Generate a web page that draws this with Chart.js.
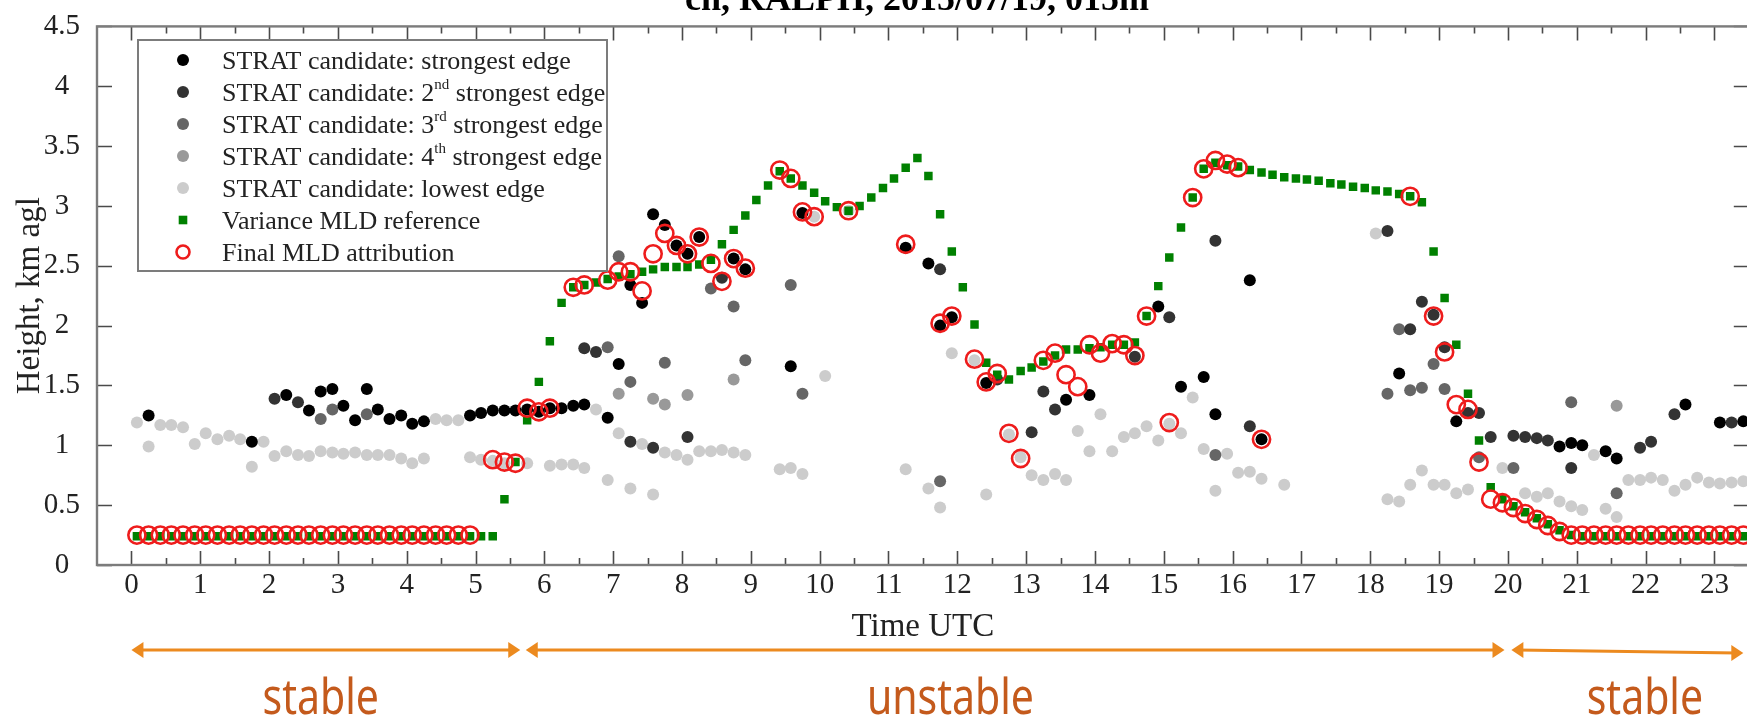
<!DOCTYPE html>
<html>
<head>
<meta charset="utf-8">
<script src="https://cdn.jsdelivr.net/npm/chart.js@4.4.1/dist/chart.umd.min.js"></script>
<style>
  html, body { margin: 0; padding: 0; background: #fff; overflow: hidden; }
  canvas { display: block; }
</style>
</head>
<body>
<canvas id="mld" width="1760" height="716" style="width:1760px;height:716px"></canvas>
<script>
// ---- data, each point is [time UTC in hours, height in km agl] ----
const strongestEdge = [
  [0.25,1.25],[1.75,1.03],[2.25,1.42],[2.58,1.29],[2.75,1.45],[2.92,1.47],[3.08,1.33],[3.25,1.21],
  [3.42,1.47],[3.58,1.30],[3.75,1.22],[3.92,1.25],[4.08,1.18],[4.25,1.20],[4.92,1.25],[5.08,1.27],
  [5.25,1.29],[5.42,1.29],[5.58,1.29],[5.75,1.30],[5.92,1.28],[6.08,1.31],[6.25,1.31],[6.42,1.33],
  [6.58,1.34],[6.92,1.23],[7.08,1.68],[7.25,2.34],[7.42,2.19],[7.58,2.93],[7.75,2.84],[7.92,2.67],
  [8.08,2.60],[8.25,2.74],[8.75,2.56],[8.92,2.47],[9.58,1.66],[9.75,2.94],[11.25,2.65],[11.58,2.52],
  [11.75,2.00],[11.92,2.07],[12.42,1.52],[13.58,1.38],[13.92,1.42],[14.92,2.16],[15.25,1.49],[15.58,1.57],
  [15.75,1.26],[16.25,2.38],[16.42,1.05],[18.42,1.60],[19.25,1.20],[20.75,0.99],[20.92,1.02],[21.08,1.00],
  [21.42,0.95],[21.58,0.89],[22.58,1.34],[23.08,1.19],[23.42,1.20]
];
const secondEdge = [
  [2.08,1.39],[2.42,1.36],[6.58,1.81],[6.75,1.78],[7.25,1.03],[7.58,0.98],[8.08,1.07],[8.58,2.40],
  [11.75,2.47],[12.58,1.55],[13.08,1.11],[13.25,1.45],[13.42,1.30],[14.58,1.74],[15.08,2.07],[15.75,2.71],
  [16.25,1.16],[18.25,2.79],[18.58,1.97],[18.75,2.20],[18.92,2.09],[19.08,1.82],[19.42,1.27],[19.58,1.27],
  [19.75,1.07],[20.08,1.08],[20.25,1.07],[20.42,1.06],[20.58,1.04],[20.92,0.81],[21.92,0.98],[22.08,1.03],
  [22.42,1.26],[23.25,1.19]
];
const thirdEdge = [
  [2.75,1.22],[2.92,1.30],[3.42,1.26],[6.92,1.82],[7.08,2.58],[7.25,1.53],[7.75,1.69],[8.42,2.31],
  [8.75,2.16],[8.92,1.71],[9.58,2.34],[9.75,1.43],[11.75,0.70],[15.75,0.92],[18.25,1.43],[18.42,1.97],
  [18.58,1.46],[18.75,1.48],[18.92,1.68],[19.08,1.47],[19.58,0.90],[20.08,0.81],[20.92,1.36],[21.58,0.60]
];
const fourthEdge = [
  [7.08,1.43],[7.58,1.39],[7.75,1.34],[8.08,1.42],[8.75,1.55],[21.58,1.33]
];
const lowestEdge = [
  [0.08,1.19],[0.25,0.99],[0.42,1.17],[0.58,1.17],[0.75,1.15],[0.92,1.01],[1.08,1.10],[1.25,1.05],
  [1.42,1.08],[1.58,1.05],[1.75,0.82],[1.92,1.03],[2.08,0.91],[2.25,0.95],[2.42,0.92],[2.58,0.91],
  [2.75,0.95],[2.92,0.94],[3.08,0.93],[3.25,0.94],[3.42,0.92],[3.58,0.92],[3.75,0.92],[3.92,0.89],
  [4.08,0.85],[4.25,0.89],[4.42,1.22],[4.58,1.21],[4.75,1.21],[4.92,0.90],[5.08,0.88],[5.25,0.87],
  [5.42,0.85],[5.75,0.85],[6.08,0.83],[6.25,0.84],[6.42,0.84],[6.58,0.81],[6.75,1.30],[6.92,0.71],
  [7.08,1.10],[7.25,0.64],[7.42,1.01],[7.58,0.59],[7.75,0.94],[7.92,0.92],[8.08,0.88],[8.25,0.95],
  [8.42,0.95],[8.58,0.96],[8.75,0.94],[8.92,0.92],[9.42,0.80],[9.58,0.81],[9.75,0.76],[9.92,2.91],
  [10.08,1.58],[10.42,2.96],[11.25,0.80],[11.58,0.64],[11.75,0.48],[11.92,1.77],[12.25,1.71],[12.42,0.59],
  [12.75,1.09],[12.92,0.90],[13.08,0.75],[13.25,0.71],[13.42,0.76],[13.58,0.71],[13.75,1.12],[13.92,0.95],
  [14.08,1.26],[14.25,0.95],[14.42,1.07],[14.58,1.10],[14.75,1.16],[14.92,1.04],[15.08,1.18],[15.25,1.10],
  [15.42,1.40],[15.58,0.97],[15.75,0.62],[15.92,0.93],[16.08,0.77],[16.25,0.78],[16.42,0.72],[16.75,0.67],
  [18.08,2.77],[18.25,0.55],[18.42,0.53],[18.58,0.67],[18.75,0.79],[18.92,0.67],[19.08,0.67],[19.25,0.60],
  [19.42,0.63],[19.92,0.81],[20.25,0.60],[20.42,0.57],[20.58,0.60],[20.75,0.53],[20.92,0.49],[21.08,0.46],
  [21.25,0.92],[21.42,0.47],[21.58,0.40],[21.75,0.71],[21.92,0.71],[22.08,0.73],[22.25,0.71],[22.42,0.62],
  [22.58,0.67],[22.75,0.73],[22.92,0.69],[23.08,0.68],[23.25,0.69],[23.42,0.70]
];
const varianceMLD = [
  [0.08,0.24],[0.25,0.24],[0.42,0.24],[0.58,0.24],[0.75,0.24],[0.92,0.24],[1.08,0.24],[1.25,0.24],
  [1.42,0.24],[1.58,0.24],[1.75,0.24],[1.92,0.24],[2.08,0.24],[2.25,0.24],[2.42,0.24],[2.58,0.24],
  [2.75,0.24],[2.92,0.24],[3.08,0.24],[3.25,0.24],[3.42,0.24],[3.58,0.24],[3.75,0.24],[3.92,0.24],
  [4.08,0.24],[4.25,0.24],[4.42,0.24],[4.58,0.24],[4.75,0.24],[4.92,0.24],[5.08,0.24],[5.25,0.24],
  [5.42,0.55],[5.58,0.86],[5.75,1.21],[5.92,1.53],[6.08,1.87],[6.25,2.19],[6.42,2.32],[6.58,2.34],
  [6.75,2.36],[6.92,2.39],[7.08,2.41],[7.25,2.43],[7.42,2.45],[7.58,2.47],[7.75,2.49],[7.92,2.49],
  [8.08,2.49],[8.25,2.51],[8.42,2.55],[8.58,2.68],[8.75,2.80],[8.92,2.92],[9.08,3.05],[9.25,3.17],
  [9.42,3.29],[9.58,3.23],[9.75,3.17],[9.92,3.11],[10.08,3.04],[10.25,2.99],[10.42,2.96],[10.58,3.00],
  [10.75,3.07],[10.92,3.15],[11.08,3.23],[11.25,3.32],[11.42,3.40],[11.58,3.25],[11.75,2.93],[11.92,2.62],
  [12.08,2.32],[12.25,2.01],[12.42,1.69],[12.58,1.59],[12.75,1.55],[12.92,1.62],[13.08,1.65],[13.25,1.70],
  [13.42,1.75],[13.58,1.80],[13.75,1.80],[13.92,1.81],[14.08,1.82],[14.25,1.84],[14.42,1.84],[14.58,1.86],
  [14.75,2.08],[14.92,2.33],[15.08,2.57],[15.25,2.82],[15.42,3.07],[15.58,3.31],[15.75,3.36],[15.92,3.34],
  [16.08,3.33],[16.25,3.30],[16.42,3.28],[16.58,3.26],[16.75,3.24],[16.92,3.23],[17.08,3.22],[17.25,3.21],
  [17.42,3.19],[17.58,3.18],[17.75,3.16],[17.92,3.15],[18.08,3.13],[18.25,3.12],[18.42,3.10],[18.58,3.08],
  [18.75,3.03],[18.92,2.62],[19.08,2.23],[19.25,1.84],[19.42,1.43],[19.58,1.04],[19.75,0.65],[19.92,0.55],
  [20.08,0.49],[20.25,0.44],[20.42,0.39],[20.58,0.34],[20.75,0.29],[20.92,0.25],[21.08,0.24],[21.25,0.24],
  [21.42,0.24],[21.58,0.24],[21.75,0.24],[21.92,0.24],[22.08,0.24],[22.25,0.24],[22.42,0.24],[22.58,0.24],
  [22.75,0.24],[22.92,0.24],[23.08,0.24],[23.25,0.24],[23.42,0.24]
];
const finalMLD = [
  [0.08,0.25],[0.25,0.25],[0.42,0.25],[0.58,0.25],[0.75,0.25],[0.92,0.25],[1.08,0.25],[1.25,0.25],
  [1.42,0.25],[1.58,0.25],[1.75,0.25],[1.92,0.25],[2.08,0.25],[2.25,0.25],[2.42,0.25],[2.58,0.25],
  [2.75,0.25],[2.92,0.25],[3.08,0.25],[3.25,0.25],[3.42,0.25],[3.58,0.25],[3.75,0.25],[3.92,0.25],
  [4.08,0.25],[4.25,0.25],[4.42,0.25],[4.58,0.25],[4.75,0.25],[4.92,0.25],
  [5.25,0.88],[5.42,0.86],[5.58,0.85],[5.75,1.31],[5.92,1.28],[6.08,1.31],[6.42,2.32],[6.58,2.34],
  [6.92,2.38],[7.08,2.45],[7.25,2.45],[7.42,2.29],[7.58,2.60],[7.75,2.77],[7.92,2.67],[8.08,2.60],
  [8.25,2.74],[8.42,2.52],[8.58,2.37],[8.75,2.56],[8.92,2.48],[9.42,3.30],[9.58,3.23],[9.75,2.95],
  [9.92,2.91],[10.42,2.96],[11.25,2.68],[11.75,2.02],[11.92,2.08],[12.25,1.72],[12.42,1.53],[12.58,1.60],
  [12.75,1.10],[12.92,0.89],[13.25,1.71],[13.42,1.77],[13.58,1.59],[13.75,1.49],[13.92,1.84],[14.08,1.77],
  [14.25,1.85],[14.42,1.84],[14.58,1.75],[14.75,2.08],[15.08,1.19],[15.42,3.07],[15.58,3.31],[15.75,3.38],
  [15.92,3.35],[16.08,3.32],[16.42,1.05],[18.58,3.08],[18.92,2.08],[19.08,1.78],[19.25,1.34],[19.42,1.30],
  [19.58,0.86],[19.75,0.55],[19.92,0.52],[20.08,0.48],[20.25,0.43],[20.42,0.38],[20.58,0.33],[20.75,0.28],
  [20.92,0.25],[21.08,0.25],[21.25,0.25],[21.42,0.25],[21.58,0.25],[21.75,0.25],[21.92,0.25],[22.08,0.25],
  [22.25,0.25],[22.42,0.25],[22.58,0.25],[22.75,0.25],[22.92,0.25],[23.08,0.25],[23.25,0.25],[23.42,0.25]
];

const xTicks = [0,1,2,3,4,5,6,7,8,9,10,11,12,13,14,15,16,17,18,19,20,21,22,23];
const yTicks = [0,0.5,1,1.5,2,2.5,3,3.5,4,4.5];
const yTickLabels = ["0","0.5","1","1.5","2","2.5","3","3.5","4","4.5"];

// legend texts: main part, superscript, rest
const legendLabels = [
  ["STRAT candidate: strongest edge", "", ""],
  ["STRAT candidate: 2", "nd", " strongest edge"],
  ["STRAT candidate: 3", "rd", " strongest edge"],
  ["STRAT candidate: 4", "th", " strongest edge"],
  ["STRAT candidate: lowest edge", "", ""],
  ["Variance MLD reference", "", ""],
  ["Final MLD attribution", "", ""]
];

const titleText = "ch, RALPH, 2015/07/19, 015m";
const xTitle = "Time UTC";
const yTitle = "Height, km agl";

// stability regimes under the axis (hours)
const regimeLabels = ["stable", "unstable", "stable"];
const regimeSpans = [[0, 5.65], [5.73, 19.95], [20.05, 23.42]];
const regimeTextAt = [2.75, 11.9, 21.99];

// ---- styles ----
const serif = "'Liberation Serif', 'Times New Roman', serif";
const grays = ["#000000", "#333333", "#666666", "#999999", "#cccccc"];
const green = "#008000";
const red = "#ee1c1c";
const orange = "#ec8a1f";
const regimeColor = "#c45a1c";

const toXY = arr => arr.map(p => ({ x: p[0], y: p[1] }));

function dotSet(label, data, color, order) {
  return {
    label, data: toXY(data), order,
    pointStyle: "circle", pointRadius: 6,
    backgroundColor: color, borderColor: color, borderWidth: 0,
    showLine: false
  };
}

const datasets = [
  dotSet("strongest", strongestEdge, grays[0], 2),
  dotSet("2nd", secondEdge, grays[1], 3),
  dotSet("3rd", thirdEdge, grays[2], 4),
  dotSet("4th", fourthEdge, grays[3], 5),
  dotSet("lowest", lowestEdge, grays[4], 6),
  {
    label: "variance", data: toXY(varianceMLD), order: 1,
    pointStyle: "rect", pointRadius: 6,
    backgroundColor: green, borderWidth: 0, showLine: false
  },
  {
    label: "final", data: toXY(finalMLD), order: 0,
    pointStyle: "circle", pointRadius: 8.6,
    backgroundColor: "rgba(0,0,0,0)", borderColor: red, borderWidth: 2.6, showLine: false
  }
];

// axes box, inward ticks, titles, legend and regime arrows
const decorations = {
  id: "decorations",
  afterDatasetsDraw(chart) {
    const { ctx, chartArea: a, scales: { x, y } } = chart;
    ctx.save();
    // inward ticks
    ctx.strokeStyle = "#4a4a4a";
    ctx.lineWidth = 1.6;
    ctx.beginPath();
    xTicks.forEach(h => {
      [h, h + 0.5].forEach((v, k) => {
        const px = Math.round(x.getPixelForValue(v)) + 0.5;
        const len = k === 0 ? 14 : 7;
        ctx.moveTo(px, a.bottom); ctx.lineTo(px, a.bottom - len);
        ctx.moveTo(px, a.top); ctx.lineTo(px, a.top + len);
      });
    });
    yTicks.forEach(v => {
      const py = Math.round(y.getPixelForValue(v)) + 0.5;
      ctx.moveTo(a.left, py); ctx.lineTo(a.left + 15, py);
      ctx.moveTo(a.right, py); ctx.lineTo(a.right - 15, py);
    });
    ctx.stroke();
    // box
    ctx.strokeStyle = "#7c7c7c";
    ctx.lineWidth = 2.4;
    ctx.strokeRect(a.left, a.top, a.right - a.left, a.bottom - a.top);
    ctx.restore();
  },
  afterDraw(chart) {
    const { ctx, chartArea: a, scales: { x } } = chart;
    ctx.save();
    // title, cut by the top edge
    ctx.fillStyle = "#000";
    ctx.font = "bold 36px " + serif;
    ctx.textAlign = "center";
    ctx.textBaseline = "alphabetic";
    ctx.fillText(titleText, 917, 10);

    // axis titles
    ctx.fillStyle = "#222";
    ctx.font = "33px " + serif;
    ctx.textBaseline = "middle";
    ctx.fillText(xTitle, (a.left + a.right) / 2, 627);
    ctx.save();
    ctx.translate(30, (a.top + a.bottom) / 2);
    ctx.rotate(-Math.PI / 2);
    ctx.fillText(yTitle, 0, 0);
    ctx.restore();

    // legend
    const lx = 138, ly = 40, lw = 469, lh = 231;
    ctx.fillStyle = "#fff";
    ctx.fillRect(lx, ly, lw, lh);
    ctx.strokeStyle = "#7c7c7c";
    ctx.lineWidth = 2;
    ctx.strokeRect(lx, ly, lw, lh);
    legendLabels.forEach((parts, i) => {
      const cy = 60 + i * 32;
      const mx = 183;
      if (i < 5) {
        ctx.fillStyle = grays[i];
        ctx.beginPath(); ctx.arc(mx, cy, 6, 0, Math.PI * 2); ctx.fill();
      } else if (i === 5) {
        ctx.fillStyle = green;
        ctx.fillRect(mx - 4.3, cy - 4.3, 8.6, 8.6);
      } else {
        ctx.strokeStyle = red; ctx.lineWidth = 2.6;
        ctx.beginPath(); ctx.arc(mx, cy, 6.5, 0, Math.PI * 2); ctx.stroke();
      }
      ctx.fillStyle = "#222";
      ctx.textAlign = "left";
      ctx.textBaseline = "alphabetic";
      let tx = 222;
      const base = cy + 9;
      ctx.font = "26px " + serif;
      ctx.fillText(parts[0], tx, base);
      tx += ctx.measureText(parts[0]).width;
      if (parts[1]) {
        ctx.font = "15px " + serif;
        ctx.fillText(parts[1], tx, base - 12);
        tx += ctx.measureText(parts[1]).width;
        ctx.font = "26px " + serif;
        ctx.fillText(parts[2], tx, base);
      }
    });

    // stability regimes
    ctx.strokeStyle = orange;
    ctx.fillStyle = orange;
    ctx.lineWidth = 3;
    const yArrow = 650;
    const head = (px, py, dir) => {
      ctx.beginPath();
      ctx.moveTo(px, py);
      ctx.lineTo(px - dir * 12, py - 8);
      ctx.lineTo(px - dir * 12, py + 8);
      ctx.closePath();
      ctx.fill();
    };
    regimeSpans.forEach((s, i) => {
      const x0 = x.getPixelForValue(s[0]);
      const x1 = x.getPixelForValue(s[1]);
      const y1 = i === 2 ? yArrow + 3 : yArrow;
      ctx.beginPath();
      ctx.moveTo(x0 + 6, yArrow);
      ctx.lineTo(x1 - 6, y1);
      ctx.stroke();
      head(x0, yArrow, -1);
      head(x1, y1, 1);
    });
    ctx.fillStyle = regimeColor;
    ctx.font = "50px 'Liberation Sans Narrow', 'Noto Sans', sans-serif";
    ctx.textAlign = "center";
    ctx.textBaseline = "alphabetic";
    regimeLabels.forEach((t, i) => {
      ctx.save();
      ctx.translate(x.getPixelForValue(regimeTextAt[i]), 714);
      ctx.scale(0.82, 1);
      ctx.fillText(t, 0, 0);
      ctx.restore();
    });
    ctx.restore();
  }
};

new Chart(document.getElementById("mld"), {
  type: "scatter",
  data: { datasets },
  options: {
    responsive: false,
    animation: false,
    events: [],
    layout: { padding: { top: 18, right: 10, left: 0, bottom: 0 } },
    plugins: { legend: { display: false }, tooltip: { enabled: false }, title: { display: false } },
    scales: {
      x: {
        type: "linear", min: -0.5, max: 23.5,
        grid: { display: false },
        border: { display: false },
        afterBuildTicks: s => { s.ticks = xTicks.map(v => ({ value: v })); },
        afterFit: s => { s.height = 151; },
        ticks: {
          color: "#222", padding: -5, maxRotation: 0, autoSkip: false,
          font: { family: serif, size: 29 },
          callback: v => String(v)
        }
      },
      y: {
        type: "linear", min: 0, max: 4.5,
        grid: { display: false },
        border: { display: false },
        afterBuildTicks: s => { s.ticks = yTicks.map(v => ({ value: v })); },
        afterFit: s => { s.width = 97; },
        ticks: {
          color: "#222", padding: 9, crossAlign: "center", autoSkip: false,
          font: { family: serif, size: 29 },
          callback: v => yTickLabels[yTicks.indexOf(v)]
        }
      }
    }
  },
  plugins: [decorations]
});
</script>
</body>
</html>
